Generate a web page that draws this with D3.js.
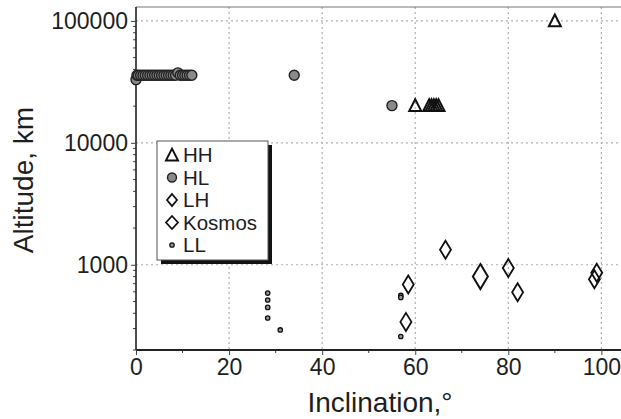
<!DOCTYPE html>
<html>
<head>
<meta charset="utf-8">
<script src="https://cdn.jsdelivr.net/npm/d3@7"></script>
<style>
  body { margin: 0; background: #fff; }
  text { font-family: "Liberation Sans", Arial, sans-serif; fill: #1e1e1e; }
</style>
</head>
<body>
<div id="chart"></div>
<script>
// inclination (deg) / altitude (km)
let hhIncl = [60, 63, 63.5, 64, 64.5, 65, 90];
let hhAlt  = [20200, 20200, 20200, 20200, 20200, 20200, 100000];

let hlIncl = [0, 0.2, 0.5, 1, 1.5, 2, 2.5, 3, 3.5, 4, 4.5, 5, 5.5, 6, 6.5, 7, 7.5, 8, 8.5, 9, 9.5, 10, 10.5, 11, 11.5, 12, 34, 55];
let hlAlt  = [33000, 35786, 35786, 35786, 35786, 35786, 35786, 35786, 35786, 35786, 35786, 35786, 35786, 35786, 35786, 35786, 35786, 35786, 35786, 37500, 35786, 35786, 35786, 35786, 35786, 35786, 35786, 20200];

let lhIncl = [58.5, 58, 66.5, 80, 82, 98.5, 99];
let lhAlt  = [690, 340, 1330, 940, 595, 760, 860];

let kosIncl = [74];
let kosAlt  = [800];

let llIncl = [28.3, 28.3, 28.3, 28.3, 31, 56.9, 56.9, 56.9];
let llAlt  = [586, 514, 447, 366, 292, 560, 540, 258];

let xTicks = [0, 20, 40, 60, 80, 100];
let yTicks = [1000, 10000, 100000];
let legendNames = ["HH", "HL", "LH", "Kosmos", "LL"];

let W = 621, H = 419;
let pl = 136, pr = 620, pt = 7, pb = 350;

let svg = d3.select("#chart").append("svg")
            .attr("width", W)
            .attr("height", H);

let x = d3.scaleLinear().domain([0, 104]).range([pl, pr]);
let y = d3.scaleLog().domain([200, 130000]).range([pb, pt]);

function zip(a, b) { return a.map(function(v, i) { return {x: v, y: b[i]}; }); }

// grid
svg.append("g").selectAll("line").data(xTicks.slice(1)).enter().append("line")
   .attr("x1", function(d) { return x(d); }).attr("x2", function(d) { return x(d); })
   .attr("y1", pt).attr("y2", pb)
   .attr("stroke", "#b0b0b0").attr("stroke-width", 1.2).attr("stroke-dasharray", "2,3");
svg.append("g").selectAll("line").data(yTicks).enter().append("line")
   .attr("x1", pl).attr("x2", W)
   .attr("y1", function(d) { return y(d); }).attr("y2", function(d) { return y(d); })
   .attr("stroke", "#b0b0b0").attr("stroke-width", 1.2).attr("stroke-dasharray", "2,3");

// top border
svg.append("line").attr("x1", pl).attr("x2", W).attr("y1", pt).attr("y2", pt)
   .attr("stroke", "#777").attr("stroke-width", 1.2);

// minor ticks
let yMinor = [];
[100, 1000, 10000, 100000].forEach(function(dec) {
  for (let k = 2; k <= 9; k++) if (dec * k >= 200 && dec * k <= 130000) yMinor.push(dec * k);
});
svg.append("g").selectAll("line").data(yMinor).enter().append("line")
   .attr("x1", pl - 3).attr("x2", pl)
   .attr("y1", function(d) { return y(d); }).attr("y2", function(d) { return y(d); })
   .attr("stroke", "#444");
svg.append("g").selectAll("line").data([10, 30, 50, 70, 90]).enter().append("line")
   .attr("x1", function(d) { return x(d); }).attr("x2", function(d) { return x(d); })
   .attr("y1", pb).attr("y2", pb + 3)
   .attr("stroke", "#444");

// axes
let xAxis = svg.append("g")
   .attr("transform", "translate(0," + pb + ")")
   .call(d3.axisBottom(x).tickValues(xTicks).tickSize(5).tickSizeOuter(0).tickPadding(4));
xAxis.select(".domain").attr("stroke", "#222").attr("stroke-width", 2.2)
     .attr("d", "M" + pl + ",0H" + W);
xAxis.selectAll(".tick line").attr("stroke", "#444");
xAxis.selectAll("text").style("font-size", "23px").attr("fill", "#222")
     .style("font-family", "Liberation Sans, Arial, sans-serif");

let yAxis = svg.append("g")
   .attr("transform", "translate(" + pl + ",0)")
   .call(d3.axisLeft(y).tickValues(yTicks).tickFormat(d3.format("d")).tickSize(5).tickSizeOuter(0).tickPadding(3));
yAxis.select(".domain").attr("stroke", "#222").attr("stroke-width", 1.6)
     .attr("d", "M0," + pt + "V" + pb);
yAxis.selectAll(".tick line").attr("stroke", "#444");
yAxis.selectAll("text").style("font-size", "23px").attr("fill", "#222")
     .style("font-family", "Liberation Sans, Arial, sans-serif");

// axis titles
svg.append("text")
   .attr("x", 380).attr("y", 412)
   .attr("text-anchor", "middle")
   .style("font-size", "28px")
   .text("Inclination,°");

svg.append("text")
   .attr("transform", "translate(33,180) rotate(-90)")
   .attr("text-anchor", "middle")
   .style("font-size", "28px")
   .text("Altitude, km");

// marks
function diamond(w, h) { return "M0," + (-h / 2) + "L" + (w / 2) + ",0L0," + (h / 2) + "L" + (-w / 2) + ",0Z"; }
function triangle(s) { let h = s * 0.9; return "M0," + (-h / 2 - 1) + "L" + (s / 2) + "," + (h / 2) + "L" + (-s / 2) + "," + (h / 2) + "Z"; }

let marks = svg.append("g");

marks.selectAll(".hl").data(zip(hlIncl, hlAlt)).enter().append("circle")
     .attr("cx", function(d) { return x(d.x); })
     .attr("cy", function(d) { return y(d.y); })
     .attr("r", 5)
     .attr("fill", "#8a8a8a").attr("stroke", "#222").attr("stroke-width", 1.4);

marks.selectAll(".hh").data(zip(hhIncl, hhAlt)).enter().append("path")
     .attr("transform", function(d) { return "translate(" + x(d.x) + "," + y(d.y) + ")"; })
     .attr("d", triangle(12))
     .attr("fill", "none").attr("stroke", "#111").attr("stroke-width", 2);

marks.selectAll(".lh").data(zip(lhIncl, lhAlt)).enter().append("path")
     .attr("transform", function(d) { return "translate(" + x(d.x) + "," + y(d.y) + ")"; })
     .attr("d", diamond(11, 18))
     .attr("fill", "none").attr("stroke", "#111").attr("stroke-width", 1.8);

marks.selectAll(".kos").data(zip(kosIncl, kosAlt)).enter().append("path")
     .attr("transform", function(d) { return "translate(" + x(d.x) + "," + y(d.y) + ")"; })
     .attr("d", diamond(15, 25))
     .attr("fill", "none").attr("stroke", "#111").attr("stroke-width", 2);

marks.selectAll(".ll").data(zip(llIncl, llAlt)).enter().append("circle")
     .attr("cx", function(d) { return x(d.x); })
     .attr("cy", function(d) { return y(d.y); })
     .attr("r", 2.2)
     .attr("fill", "#999").attr("stroke", "#111").attr("stroke-width", 1.3);

// legend
let lg = svg.append("g").attr("transform", "translate(157,141)");
lg.append("rect").attr("x", 4).attr("y", 4).attr("width", 111).attr("height", 119).attr("fill", "#111");
lg.append("rect").attr("x", 0).attr("y", 0).attr("width", 111).attr("height", 119)
  .attr("fill", "#fff").attr("stroke", "#555").attr("stroke-width", 1);

let row = lg.selectAll(".row").data(legendNames).enter().append("g")
            .attr("transform", function(d, i) { return "translate(15," + (14 + i * 22.5) + ")"; });
row.append("text").attr("x", 11).attr("y", 7).style("font-size", "20.5px").text(function(d) { return d; });

row.filter(function(d) { return d === "HH"; }).append("path")
   .attr("d", triangle(12)).attr("fill", "none").attr("stroke", "#111").attr("stroke-width", 2);
row.filter(function(d) { return d === "HL"; }).append("circle")
   .attr("r", 4.5).attr("fill", "#8a8a8a").attr("stroke", "#222").attr("stroke-width", 1.4);
row.filter(function(d) { return d === "LH"; }).append("path")
   .attr("d", diamond(10, 12)).attr("fill", "none").attr("stroke", "#111").attr("stroke-width", 1.8);
row.filter(function(d) { return d === "Kosmos"; }).append("path")
   .attr("d", diamond(12, 13)).attr("fill", "none").attr("stroke", "#111").attr("stroke-width", 1.8);
row.filter(function(d) { return d === "LL"; }).append("circle")
   .attr("r", 2.2).attr("fill", "#999").attr("stroke", "#111").attr("stroke-width", 1.3);
</script>
</body>
</html>
